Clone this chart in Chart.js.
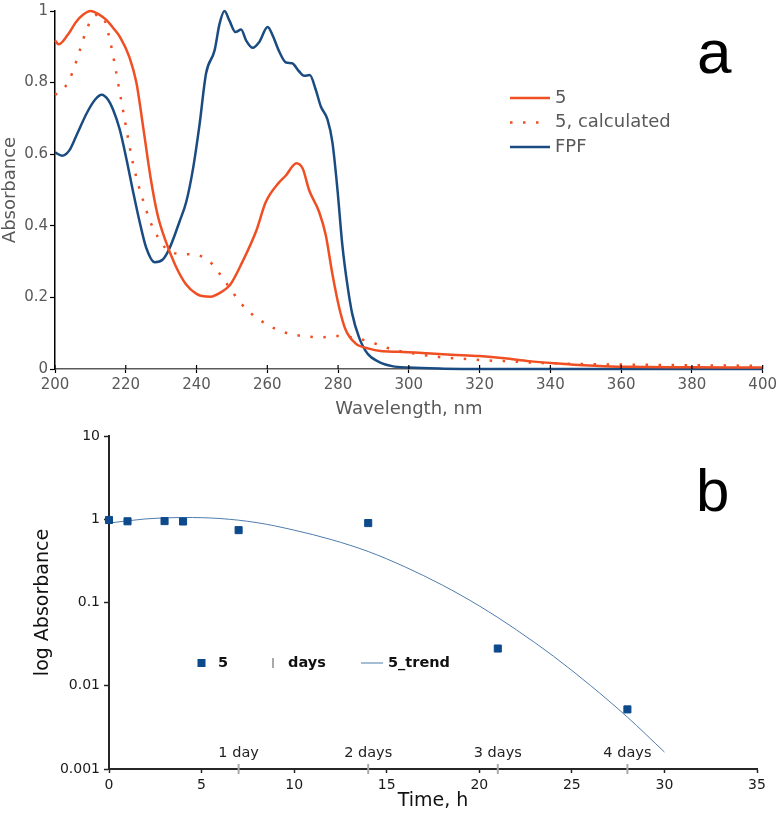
<!DOCTYPE html>
<html><head><meta charset="utf-8">
<script src="https://cdn.jsdelivr.net/npm/chart.js@4/dist/chart.umd.min.js"></script>
<style>
html,body{margin:0;padding:0;background:#fff;}
#wrapA{position:absolute;left:0;top:0;width:780px;height:420px;}
#wrapB{position:absolute;left:0;top:420px;width:780px;height:397px;}
</style></head><body>
<div id="wrapA"><canvas id="chartA" width="780" height="420"></canvas></div>
<div id="wrapB"><canvas id="chartB" width="780" height="397"></canvas></div>
<script>
// ---------- Panel a data ----------
const s5Wavelength = [200,201,203.5,206,208,210,212.5,214.5,216.5,218.5,221,223,225,227,229,231,234,237,240,242,244,246.5,249.5,253,256.8,259.6,263.4,265.3,267,268.2,270,271.8,274.6,276.5,278.4,280.3,282.2,285,288.7,292,297,305,312,320,327,334,341,348,355,362,380,400];
const s5Absorbance = [0.918,0.907,0.932,0.97,0.99,1.0,0.99,0.975,0.952,0.925,0.872,0.8,0.67,0.535,0.43,0.365,0.29,0.237,0.21,0.203,0.202,0.212,0.235,0.3,0.384,0.467,0.522,0.541,0.565,0.575,0.56,0.5,0.44,0.375,0.265,0.172,0.108,0.071,0.057,0.05,0.048,0.044,0.04,0.036,0.03,0.022,0.016,0.011,0.008,0.006,0.005,0.004];

const calcWavelength = [200,203,205,207,209,211,212.5,214,215.5,217,218.5,220,221.5,223,225,227,229,231,233,236,239,242,245,247.5,250,252,254.5,257,260,264,268,272,276,279,283,286.5,290,293.5,297,301,305,310,316,320,327,335,345,355,365,375,385,400];
const calcAbsorbance = [0.765,0.79,0.83,0.89,0.95,0.985,0.99,0.975,0.92,0.845,0.762,0.68,0.6,0.535,0.468,0.41,0.37,0.34,0.326,0.321,0.32,0.312,0.287,0.252,0.218,0.19,0.163,0.143,0.124,0.105,0.095,0.09,0.089,0.092,0.09,0.083,0.073,0.06,0.051,0.044,0.038,0.032,0.028,0.025,0.022,0.018,0.015,0.013,0.012,0.011,0.01,0.009];

const fpfWavelength = [200,202,204,206,209,211.3,213.2,215,216.4,218.3,220.2,222.1,223.9,225.8,228.2,230.5,232.4,235.2,237.1,239,240.8,242.7,245.1,246.5,247.9,249.3,251,252.6,254,255.9,257.7,260.1,261.5,263.4,265.3,267,269,270.4,272,273.7,275.1,277,278.4,279.8,281.2,282.6,284,285.9,288.3,291.5,295.3,300,310,320,400];
const fpfAbsorbance = [0.605,0.596,0.61,0.651,0.715,0.752,0.766,0.752,0.725,0.669,0.586,0.494,0.412,0.338,0.298,0.306,0.338,0.412,0.467,0.559,0.679,0.826,0.89,0.964,1.0,0.973,0.941,0.948,0.918,0.897,0.913,0.955,0.932,0.886,0.856,0.854,0.831,0.819,0.821,0.78,0.734,0.697,0.633,0.504,0.347,0.237,0.154,0.089,0.043,0.02,0.008,0.004,0.001,0,0];

const wavelengthTicks = [200,220,240,260,280,300,320,340,360,380,400];
const absorbanceTicks = [0,0.2,0.4,0.6,0.8,1];

// ---------- Panel b data ----------
const timeHours = [0,1,3,4,7,14,21,28];
const absorbance5 = [0.98,0.945,0.95,0.94,0.74,0.9,0.028,0.0052];
const dayHours = [7,14,21,28];
const dayLevel = [0.001,0.001,0.001,0.001];
const dayLabels = ['1 day','2 days','3 days','4 days'];
const trendHours = [0,2,4,6,8,10,12,14,16,18,20,22,24,26,28,30];
const trendAbsorbance = [0.90,1.01,1.05,1.02,0.91,0.74,0.57,0.41,0.267,0.162,0.091,0.047,0.0227,0.0101,0.0042,0.0016];
const timeTicks = [0,5,10,15,20,25,30,35];
const logTicks = [0.001,0.01,0.1,1,10];

const FONT = '"DejaVu Sans"';
const ORANGE = '#f04f23';
const BLUE = '#1a4c82';

function pts(xs, ys){ return xs.map((x,i)=>({x:x, y:ys[i]})); }

// ---------- Chart a ----------
const topDecor = {
  id:'topDecor',
  afterDraw(chart){
    const ctx = chart.ctx; ctx.save();
    const xs = chart.scales.x; const yb = chart.chartArea.bottom;
    ctx.strokeStyle = '#000'; ctx.lineWidth = 1.2;
    xs.ticks.forEach(t=>{
      const px = xs.getPixelForValue(t.value);
      ctx.beginPath(); ctx.moveTo(px, yb); ctx.lineTo(px, yb-4); ctx.stroke();
    });
    chart.data.datasets.forEach((ds,i)=>{
      const y = 98 + i*24.5;
      ctx.strokeStyle = ds.borderColor; ctx.lineWidth = ds.borderWidth;
      ctx.lineCap = 'butt';
      ctx.setLineDash(ds.borderDash || []);
      ctx.beginPath(); ctx.moveTo(510, y); ctx.lineTo(ds.borderDash ? 541 : 550, y); ctx.stroke();
      ctx.setLineDash([]);
      ctx.fillStyle = '#595959'; ctx.font = '18px ' + FONT;
      ctx.textBaseline = 'middle'; ctx.textAlign = 'left';
      ctx.fillText(ds.label, 555, y);
    });
    ctx.font = '62px "Liberation Sans"'; ctx.fillStyle = '#000';
    ctx.textBaseline = 'alphabetic'; ctx.textAlign = 'left';
    ctx.fillText('a', 697, 73);
    ctx.restore();
  }
};

new Chart(document.getElementById('chartA'), {
  type: 'scatter',
  data: {
    datasets: [
      {label:'5', data: pts(s5Wavelength, s5Absorbance), showLine:true, borderColor:ORANGE, borderWidth:2.5, pointRadius:0, cubicInterpolationMode:'monotone', clip:false},
      {label:'5, calculated', data: pts(calcWavelength, calcAbsorbance), showLine:true, borderColor:ORANGE, borderWidth:2.5, borderDash:[2.5,10.5], borderCapStyle:'butt', pointRadius:0, cubicInterpolationMode:'monotone', clip:false},
      {label:'FPF', data: pts(fpfWavelength, fpfAbsorbance), showLine:true, borderColor:BLUE, borderWidth:2.5, pointRadius:0, cubicInterpolationMode:'monotone', clip:false}
    ]
  },
  options: {
    responsive:false, animation:false, devicePixelRatio:1,
    layout:{padding:{left:0, top:7, right:15, bottom:0}},
    plugins:{legend:{display:false}, tooltip:{enabled:false}},
    scales:{
      x:{type:'linear', min:200, max:400,
        afterBuildTicks: s=>{ s.ticks = wavelengthTicks.map(v=>({value:v})); },
        afterFit: s=>{ s.height = 51; },
        ticks:{font:{family:FONT, size:15}, color:'#595959', padding:3, maxRotation:0, autoSkip:false},
        grid:{drawOnChartArea:false, tickLength:4, tickColor:'#000', tickWidth:1.2},
        border:{color:'#595959', width:1.5},
        title:{display:true, text:'Wavelength, nm', font:{family:FONT, size:18}, color:'#595959', padding:{top:0, bottom:0}}
      },
      y:{type:'linear', min:0, max:1,
        afterBuildTicks: s=>{ s.ticks = absorbanceTicks.map(v=>({value:v})); },
        afterFit: s=>{ s.width = 55; },
        ticks:{font:{family:FONT, size:15}, color:'#595959', padding:2, callback:v=>String(v)},
        grid:{drawOnChartArea:false, tickLength:5, tickColor:'#000', tickWidth:1.2},
        border:{color:'#000', width:1.5},
        title:{display:true, text:'Absorbance', font:{family:FONT, size:18}, color:'#595959', padding:{top:0, bottom:0}}
      }
    }
  },
  plugins:[topDecor]
});

// ---------- Chart b ----------
const bottomDecor = {
  id:'bottomDecor',
  afterDatasetsDraw(chart){
    const ctx = chart.ctx; ctx.save();
    const meta = chart.getDatasetMeta(1);
    ctx.font = '14.5px ' + FONT; ctx.fillStyle = '#222';
    ctx.textAlign = 'center'; ctx.textBaseline = 'middle';
    meta.data.forEach((pt,i)=>{ ctx.fillText(dayLabels[i], pt.x, pt.y - 16); });

    const ds = chart.data.datasets;
    const ly = 243;
    ctx.font = 'bold 14.5px ' + FONT; ctx.fillStyle = '#111'; ctx.textAlign = 'left';
    // 5
    ctx.fillStyle = ds[0].pointBackgroundColor;
    ctx.fillRect(197.5, ly-4, 8, 8);
    ctx.fillStyle = '#111'; ctx.fillText(ds[0].label, 218, ly);
    // days
    ctx.strokeStyle = ds[1].pointBorderColor; ctx.lineWidth = 2;
    ctx.beginPath(); ctx.moveTo(273, ly-5); ctx.lineTo(273, ly+5); ctx.stroke();
    ctx.fillText(ds[1].label, 288, ly);
    // trend
    ctx.strokeStyle = ds[2].borderColor; ctx.lineWidth = 1;
    ctx.beginPath(); ctx.moveTo(361, ly); ctx.lineTo(383, ly); ctx.stroke();
    ctx.fillText(ds[2].label, 388, ly);

    ctx.font = '60px "Liberation Sans"'; ctx.fillStyle = '#000';
    ctx.textBaseline = 'alphabetic';
    ctx.fillText('b', 696, 91);
    ctx.restore();
  }
};

new Chart(document.getElementById('chartB'), {
  type: 'scatter',
  data: {
    datasets: [
      {label:'5', data: pts(timeHours, absorbance5), pointStyle:'rect', pointRadius:5, pointBackgroundColor:'#0d4a8c', pointBorderColor:'#0d4a8c', pointBorderWidth:1, clip:false},
      {label:'days', data: pts(dayHours, dayLevel), pointStyle:'line', pointRotation:90, pointRadius:5, pointBorderColor:'#a9a9a9', pointBorderWidth:2, clip:false},
      {label:'5_trend', data: pts(trendHours, trendAbsorbance), showLine:true, pointRadius:0, borderColor:'#4f7cae', borderWidth:1, cubicInterpolationMode:'monotone', clip:false}
    ]
  },
  options: {
    responsive:false, animation:false, devicePixelRatio:1,
    layout:{padding:{left:0, top:16, right:23, bottom:0}},
    plugins:{legend:{display:false}, tooltip:{enabled:false}},
    scales:{
      x:{type:'linear', min:0, max:35,
        afterBuildTicks: s=>{ s.ticks = timeTicks.map(v=>({value:v})); },
        afterFit: s=>{ s.height = 48; },
        ticks:{font:{family:FONT, size:14}, color:'#1a1a1a', padding:4, maxRotation:0, autoSkip:false},
        grid:{drawOnChartArea:false, tickLength:4, tickColor:'#262626', tickWidth:1.5},
        border:{color:'#262626', width:2},
        title:{display:true, text:'Time, h', font:{family:FONT, size:19}, color:'#111', padding:{top:0, bottom:4.6}}
      },
      y:{type:'logarithmic', min:0.001, max:10,
        afterBuildTicks: s=>{ s.ticks = logTicks.map(v=>({value:v})); },
        afterFit: s=>{ s.width = 109; },
        ticks:{font:{family:FONT, size:14}, color:'#1a1a1a', padding:4, callback:v=>String(v), autoSkip:false},
        grid:{drawOnChartArea:false, tickLength:5, tickColor:'#262626', tickWidth:1.5},
        border:{color:'#262626', width:2},
        title:{display:true, text:'log Absorbance', font:{family:FONT, size:19}, color:'#111', padding:{top:31.6, bottom:0}}
      }
    }
  },
  plugins:[bottomDecor]
});
</script>
</body></html>
